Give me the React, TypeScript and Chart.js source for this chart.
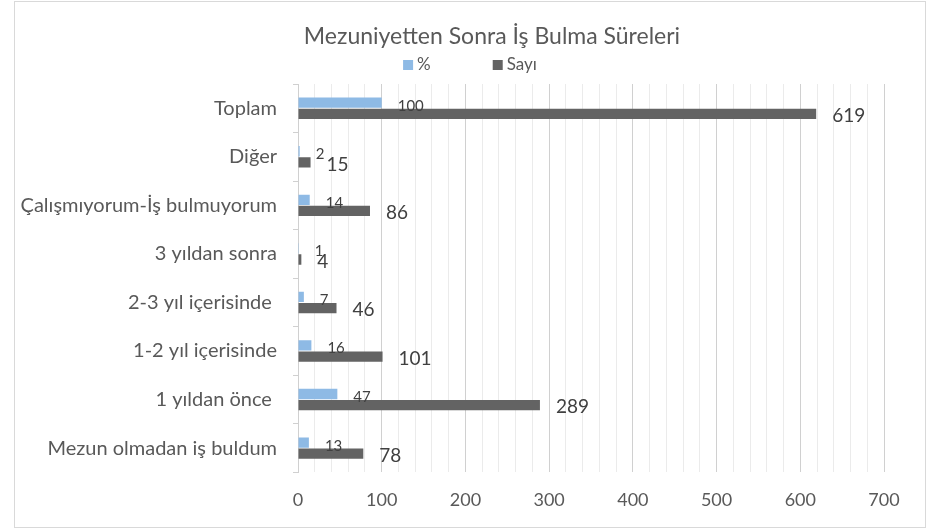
import React, { useEffect, useRef } from "react";
import { Chart, registerables } from "chart.js";

Chart.register(...registerables);

const categories = [
  "Toplam",
  "Diğer",
  "Çalışmıyorum-İş bulmuyorum",
  "3 yıldan sonra",
  "2-3 yıl içerisinde ",
  "1-2 yıl içerisinde",
  "1 yıldan önce ",
  "Mezun olmadan iş buldum",
];
const percentValues = [100, 2, 14, 1, 7, 16, 47, 13];
const countValues = [619, 15, 86, 4, 46, 101, 289, 78];
const seriesNames = ["%", "Sayı"];
const seriesColors = ["#8EBAE5", "#636363"];
const chartTitle = "Mezuniyetten Sonra İş Bulma Süreleri";
const xMin = 0;
const xMax = 700;
const xMajorStep = 100;
const xMinorStep = 20;

const FONT = "Lato, 'Open Sans', sans-serif";
const TEXT = "#595959";

const frame = {
  id: "frame",
  beforeDraw(chart: any) {
    const { ctx, width, height } = chart;
    ctx.save();
    ctx.fillStyle = "#ffffff";
    ctx.fillRect(0, 0, width, height);
    ctx.strokeStyle = "#d9d9d9";
    ctx.lineWidth = 1;
    ctx.strokeRect(14.5, 1.5, width - 20, height - 5);
    ctx.restore();
  },
};

const headerPlugin = {
  id: "header",
  afterDraw(chart: any) {
    const { ctx } = chart;
    const ds = chart.data.datasets;
    ctx.save();
    ctx.textBaseline = "middle";
    ctx.textAlign = "center";
    ctx.fillStyle = TEXT;
    ctx.font = `23px ${FONT}`;
    ctx.fillText(chartTitle, 492, 37);

    ctx.font = `17px ${FONT}`;
    ctx.textAlign = "left";
    const box = 10;
    const gapBoxText = 4;
    const gapItems = 62;
    const widths = ds.map((d: any) => box + gapBoxText + ctx.measureText(d.label).width);
    const total = widths.reduce((a: number, b: number) => a + b, 0) + gapItems * (ds.length - 1);
    let x = 470 - total / 2;
    const y = 65;
    ds.forEach((d: any, i: number) => {
      ctx.fillStyle = d.backgroundColor;
      ctx.fillRect(x, y - box / 2, box, box);
      ctx.fillStyle = TEXT;
      ctx.fillText(d.label, x + box + gapBoxText, y);
      x += widths[i] + gapItems;
    });
    ctx.restore();
  },
};

const valueLabels = {
  id: "valueLabels",
  afterDatasetsDraw(chart: any) {
    const { ctx } = chart;
    ctx.save();
    ctx.textAlign = "left";
    ctx.textBaseline = "middle";
    chart.data.datasets.forEach((ds: any, di: number) => {
      const meta = chart.getDatasetMeta(di);
      meta.data.forEach((el: any, i: number) => {
        const v = ds.data[i];
        ctx.fillStyle = "#404040";
        if (di === 0) {
          ctx.font = `15px ${FONT}`;
          ctx.fillText(String(v), el.x + 16, el.y + el.height / 2 - 2);
        } else {
          ctx.font = `19px ${FONT}`;
          ctx.fillText(String(v), el.x + 16, el.y + 2);
        }
      });
    });
    ctx.restore();
  },
};

export default function App() {
  const ref = useRef<HTMLCanvasElement | null>(null);
  useEffect(() => {
    document.body.style.margin = "0";
    const canvas = ref.current!;
    const chart = new Chart(canvas, {
      type: "bar",
      data: {
        labels: categories,
        datasets: [
          {
            label: seriesNames[0],
            data: percentValues,
            backgroundColor: seriesColors[0],
            categoryPercentage: 0.46,
            barPercentage: 0.92,
          },
          {
            label: seriesNames[1],
            data: countValues,
            backgroundColor: seriesColors[1],
            categoryPercentage: 0.46,
            barPercentage: 0.92,
          },
        ],
      },
      options: {
        indexAxis: "y",
        animation: false,
        responsive: false,
        maintainAspectRatio: false,
        layout: { padding: { left: 18, right: 47, top: 84, bottom: 3 } },
        plugins: {
          title: { display: false },
          legend: { display: false },
          tooltip: { enabled: false },
        },
        scales: {
          x: {
            min: xMin,
            max: xMax,
            ticks: {
              stepSize: xMinorStep,
              autoSkip: false,
              maxRotation: 0,
              color: TEXT,
              font: { family: FONT, size: 18 },
              padding: 17,
              callback: (v: any) => (Number(v) % xMajorStep === 0 ? String(v) : ""),
            },
            grid: {
              drawTicks: false,
              color: (c: any) =>
                c.tick && c.tick.value % xMajorStep === 0 ? "#d0d0d0" : "#ebebeb",
            },
            border: { display: false },
          },
          y: {
            ticks: {
              color: TEXT,
              font: { family: FONT, size: 20 },
              padding: 16,
            },
            grid: {
              drawOnChartArea: false,
              drawTicks: true,
              tickLength: 5,
              color: "#d0d0d0",
              offset: true,
            },
            border: { display: true, color: "#d0d0d0" },
            afterFit: (scale: any) => {
              scale.width = 280;
            },
          },
        },
      },
      plugins: [frame, valueLabels, headerPlugin],
    });
    return () => chart.destroy();
  }, []);
  return <canvas ref={ref} width={931} height={531} style={{ display: "block" }} />;
}
